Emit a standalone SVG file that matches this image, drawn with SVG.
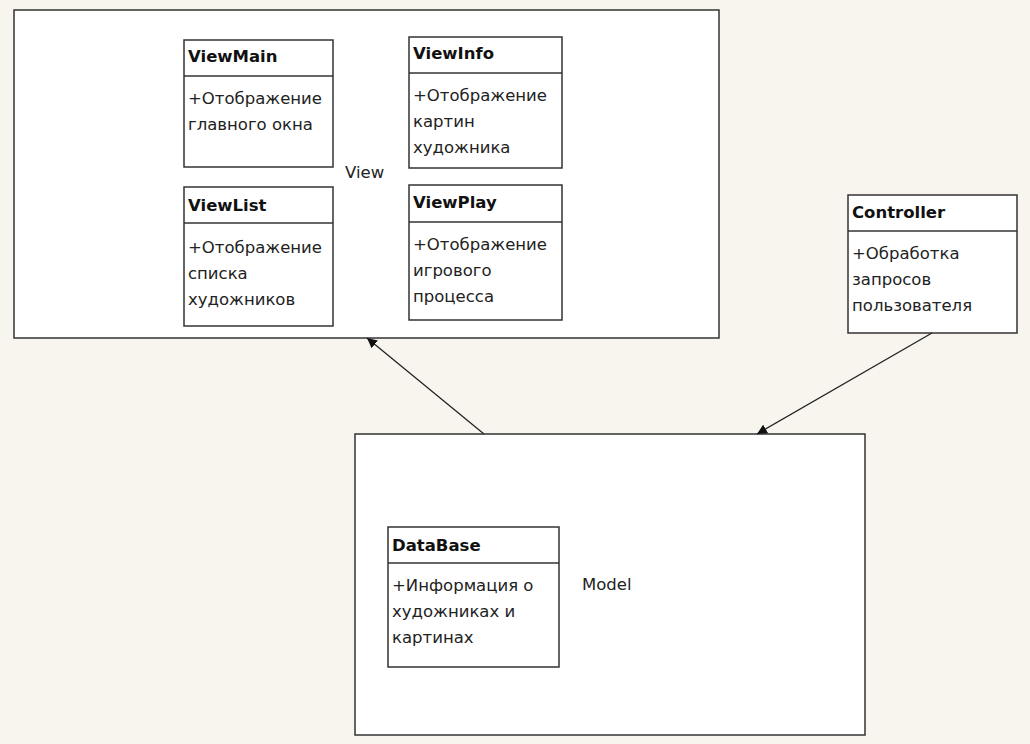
<svg xmlns="http://www.w3.org/2000/svg" width="1030" height="744" viewBox="0 0 1030 744">
<defs>
<style>
.box{fill:#fff;stroke:#333;stroke-width:1.5}
.div{stroke:#333;stroke-width:1.5}
.t{font-family:"DejaVu Sans",Verdana,sans-serif;font-size:16.5px;font-weight:bold;fill:#111}
.b{font-family:"DejaVu Sans",Verdana,sans-serif;font-size:16.5px;fill:#222}
.lbl{font-family:"DejaVu Sans",Verdana,sans-serif;font-size:16.5px;fill:#222}
.conn{stroke:#222;stroke-width:1.3;fill:none}
</style>
<marker id="ah" viewBox="0 0 10 10" refX="10" refY="5" markerWidth="10" markerHeight="10" markerUnits="userSpaceOnUse" orient="auto">
<path d="M0,0 L10,5 L0,10 z" fill="#111"/>
</marker>
</defs>
<rect width="1030" height="744" fill="#f8f5ef"/>
<g id="View">
<rect class="box" x="14" y="10" width="705" height="328"/>
<text class="lbl" x="345" y="178">View</text>
</g>
<g id="ViewMain">
<rect class="box" x="184" y="40" width="149" height="127"/>
<line class="div" x1="184" y1="76" x2="333" y2="76"/>
<text class="t" x="188" y="62">ViewMain</text>
<text class="b" x="188" y="104">+Отображение</text>
<text class="b" x="188" y="130">главного окна</text>
</g>
<g id="ViewInfo">
<rect class="box" x="409" y="37" width="153" height="131"/>
<line class="div" x1="409" y1="73" x2="562" y2="73"/>
<text class="t" x="413" y="59">ViewInfo</text>
<text class="b" x="413" y="101">+Отображение</text>
<text class="b" x="413" y="127">картин</text>
<text class="b" x="413" y="153">художника</text>
</g>
<g id="ViewList">
<rect class="box" x="184" y="187" width="149" height="139"/>
<line class="div" x1="184" y1="223" x2="333" y2="223"/>
<text class="t" x="188" y="211">ViewList</text>
<text class="b" x="188" y="253">+Отображение</text>
<text class="b" x="188" y="279">списка</text>
<text class="b" x="188" y="305">художников</text>
</g>
<g id="ViewPlay">
<rect class="box" x="409" y="185" width="153" height="135"/>
<line class="div" x1="409" y1="222" x2="562" y2="222"/>
<text class="t" x="413" y="208">ViewPlay</text>
<text class="b" x="413" y="250">+Отображение</text>
<text class="b" x="413" y="276">игрового</text>
<text class="b" x="413" y="302">процесса</text>
</g>
<g id="Controller">
<rect class="box" x="848" y="195" width="169" height="138"/>
<line class="div" x1="848" y1="231" x2="1017" y2="231"/>
<text class="t" x="852" y="218">Controller</text>
<text class="b" x="852" y="259">+Обработка</text>
<text class="b" x="852" y="285">запросов</text>
<text class="b" x="852" y="311">пользователя</text>
</g>
<g id="Model">
<rect class="box" x="355" y="434" width="510" height="301"/>
<text class="lbl" x="582" y="590">Model</text>
</g>
<g id="DataBase">
<rect class="box" x="388" y="527" width="171" height="140"/>
<line class="div" x1="388" y1="563" x2="559" y2="563"/>
<text class="t" x="392" y="551">DataBase</text>
<text class="b" x="392" y="591">+Информация о</text>
<text class="b" x="392" y="617">художниках и</text>
<text class="b" x="392" y="643">картинах</text>
</g>
<g id="connectors">
<line class="conn" x1="484" y1="434" x2="367" y2="338" marker-end="url(#ah)"/>
<line class="conn" x1="932" y1="333" x2="757" y2="434" marker-end="url(#ah)"/>
</g>
</svg>
